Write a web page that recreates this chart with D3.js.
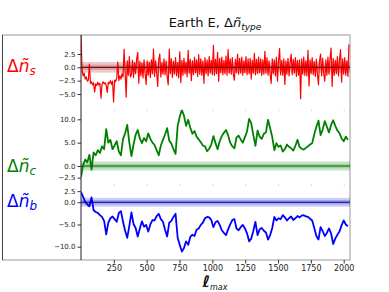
<!DOCTYPE html>
<html>
<head>
<meta charset="utf-8">
<script src="https://cdn.jsdelivr.net/npm/d3@7"></script>
<style>
  body { margin: 0; background: #fff; }
  svg { display: block; font-family: "DejaVu Sans", sans-serif; }
</style>
</head>
<body>
<svg id="chart" width="389" height="292"></svg>
<script>
// values
// delta n_s, one value every 8 in ell
const stepS = 8;
const nS = [
  6.2, -0.4, -1.6, -1.1, -2.2, -1.8, -2.6, -2.4, 0.6, -3.0, -2.7, -3.3, -2.9, -4.6, -3.1, -3.4,
  -2.8, -3.3, -3.0, -5.8, -3.2, -2.7, -3.1, -2.9, -3.4, -4.7, -2.8, -3.0, -2.5, -3.2, -2.6, -6.5,
  -2.4, -2.7, -2.0, 1.0, -2.5, -1.6, -2.2, -1.2, -1.8, 3.4, -1.0, -5.6, 1.2, -1.5, 2.0, -1.8,
  -1.4, 1.3, -1.9, 0.9, -1.2, 1.6, 2.8, -3.0, 1.1, -1.6, 0.8, -2.0, 1.4, -1.1, -3.2, 1.2,
  -1.5, 1.0, -1.9, 1.4, -1.2, 3.4, -1.7, 1.2, -1.0, -3.6, 1.5, 2.5, -1.8, 0.9, -1.3, 1.6,
  -1.4, 1.2, -1.7, -3.3, 3.4, -1.2, 1.6, -1.9, 1.1, -1.3, 1.8, -1.6, 0.9, -2.0, 2.9, -2.9,
  1.3, -1.5, 1.7, -1.2, 1.0, -1.8, 3.2, -1.1, 1.5, -2.5, 1.2, -1.4, 1.9, -1.0, 1.4, -1.7,
  2.4, -1.3, 1.6, -1.5, 1.2, -3.0, 1.8, -1.2, 1.4, -1.6, 2.0, -1.1, 1.3, -1.4, 4.1, -1.5,
  1.5, -1.2, 2.8, -2.6, 1.7, -1.0, 1.9, -1.4, 1.3, -1.2, 2.1, -1.5, 3.3, -1.1, 1.6, -1.3,
  1.8, -1.4, -2.4, 1.5, -1.0, 2.5, -1.3, 1.7, -1.1, 1.9, -1.5, 1.2, -1.0, 2.0, -1.4, 1.6,
  -1.2, 1.7, -2.2, 1.3, -1.1, 2.6, -1.4, 1.5, -1.2, 1.9, -1.0, 1.6, -1.5, 1.4, -1.3, 3.0,
  -1.1, 1.8, -1.5, 1.2, -1.3, -3.0, 1.6, -1.2, 1.4, -1.6, 1.9, -2.6, 1.1, 3.5, -1.4, 1.3,
  -1.5, 1.6, -3.2, 1.2, -1.3, 1.7, -1.6, 1.0, 2.5, -1.4, 1.5, -1.1, 1.8, -1.7, 1.3, -1.5,
  1.4, -5.9, 1.6, -1.3, 1.9, -1.5, 1.2, -1.6, 3.2, -3.5, 1.4, -1.2, 1.8, -1.4, 1.1, -1.7,
  1.5, -1.3, -3.3, 1.2, 2.5, -1.6, 1.7, -1.2, -2.6, 1.4, -1.5, 1.9, -1.3, 1.6, 3.6, -3.6,
  1.7, -1.5, 1.3, -1.2, 2.0, -1.6, 1.4, 3.3, -2.8, 1.6, -1.3, 1.8, -1.5, 1.2, -1.7, 4.3
];

// delta n_c and delta n_b, one value every 16 in ell
const stepCB = 16;
const nC = [
  -2.4, 0.2, 1.4, 0.8, 2.4, -0.8, 2.9, 2.3, 3.4, 2.8, 4.2, 3.6, 7.9, 5.0, 5.6, 3.6,
  4.4, 5.3, 3.1, 2.3, 5.8, 7.0, 8.8, 5.0, 2.1, 4.6, 6.7, 7.7, 5.9, 4.9, 6.0, 5.3,
  7.0, 5.8, 5.0, 4.5, 3.4, 2.3, 4.4, 5.6, 6.8, 8.1, 5.4, 4.8, 3.6, 2.6, 8.6, 10.6,
  12.0, 10.8, 8.6, 9.9, 8.2, 6.9, 7.5, 6.3, 5.7, 5.1, 4.4, 4.2, 3.2, 3.7, 4.6, 6.4,
  4.9, 3.6, 5.3, 6.4, 7.1, 7.7, 6.6, 5.0, 4.2, 3.8, 6.1, 6.5, 5.7, 5.0, 6.2, 7.4,
  10.1, 9.2, 6.6, 4.3, 7.6, 6.3, 5.8, 6.9, 7.2, 9.9, 8.1, 6.2, 3.4, 4.9, 4.1, 4.4,
  3.1, 3.6, 4.6, 4.1, 3.8, 3.3, 4.3, 5.6, 4.1, 3.7, 3.5, 3.9, 4.2, 4.6, 4.9, 6.8,
  8.4, 9.7, 6.6, 7.8, 9.6, 8.4, 7.2, 8.8, 9.8, 8.6, 7.6, 7.0, 5.9, 5.3, 6.3, 5.6
];
const nB = [
  2.3, 1.2, 0.1, -0.5, -0.9, 1.1, -1.8, -2.2, -2.4, -2.9, -3.3, -4.2, -7.2, -4.6, -3.6, -3.2,
  -3.8, -4.4, -2.4, -2.0, -4.4, -6.4, -8.0, -5.3, -2.3, -4.9, -5.8, -7.7, -5.9, -4.3, -5.5, -5.1,
  -6.6, -5.0, -4.0, -4.1, -3.1, -2.6, -3.8, -4.4, -6.2, -7.7, -4.6, -4.2, -3.3, -2.6, -8.0, -9.6,
  -11.1, -10.3, -8.8, -9.6, -7.8, -7.3, -7.6, -6.2, -5.9, -5.1, -4.6, -3.6, -3.3, -3.4, -4.0, -5.6,
  -4.5, -4.2, -5.1, -6.3, -6.9, -7.4, -6.1, -5.0, -4.0, -3.8, -5.9, -6.3, -5.6, -5.1, -5.9, -7.0,
  -8.8, -8.2, -6.4, -4.4, -7.4, -6.1, -5.8, -6.4, -6.8, -8.4, -7.4, -5.8, -3.3, -4.1, -3.6, -3.8,
  -2.9, -3.4, -4.1, -3.6, -3.2, -4.0, -3.6, -3.1, -3.4, -3.0, -2.9, -3.2, -3.3, -3.7, -4.1, -5.8,
  -7.6, -8.4, -5.6, -6.5, -7.6, -6.9, -5.9, -7.0, -9.4, -8.2, -7.3, -6.6, -5.2, -4.1, -5.0, -5.4
];

const xTicks = [250, 500, 750, 1000, 1250, 1500, 1750, 2000];
const ticksS = [2.5, 0, -2.5, -5];
const ticksC = [10, 5, 0, -2.5];
const ticksB = [2.5, 0, -5, -10];

const svg = d3.select("#chart");
const x = d3.scaleLinear().domain([0, 2048]).range([81, 350]);

const panels = [
  { values: nS, step: stepS, ticks: ticksS, domain: [-7.95, 6.06], top: 35, bottom: 109.7,
    color: "#ff0000", width: 1.2, zero: "#8b0000", band: "#8b0000", sub: "s", labelY: 72 },
  { values: nC, step: stepCB, ticks: ticksC, domain: [-3.96, 12.06], top: 109.7, bottom: 184.5,
    color: "#008000", width: 1.8, zero: "#006400", band: "#008000", sub: "c", labelY: 171.5 },
  { values: nB, step: stepCB, ticks: ticksB, domain: [-13.0, 4.0], top: 184.5, bottom: 260,
    color: "#0000ff", width: 1.8, zero: "#00008b", band: "#0000cd", sub: "b", labelY: 207 }
];

// outer frame
svg.append("rect")
  .attr("x", 2.5).attr("y", 35)
  .attr("width", 347.5).attr("height", 225)
  .attr("fill", "none").attr("stroke", "#999");
svg.append("line")
  .attr("x1", 2.5).attr("x2", 2.5).attr("y1", 35).attr("y2", 260)
  .attr("stroke", "#444");

panels.forEach((p, k) => {
  const y = d3.scaleLinear().domain(p.domain).range([p.bottom, p.top]);

  svg.append("clipPath").attr("id", "clip" + k)
    .append("rect")
    .attr("x", x(0)).attr("y", p.top)
    .attr("width", x(2048) - x(0)).attr("height", p.bottom - p.top);

  const g = svg.append("g").attr("clip-path", "url(#clip" + k + ")");

  // 1 and 0.5 bands round zero
  [1, 0.5].forEach(w => {
    g.append("rect")
      .attr("x", x(0)).attr("width", x(2048) - x(0))
      .attr("y", y(w)).attr("height", y(-w) - y(w))
      .attr("fill", p.band).attr("opacity", 0.2);
  });

  const line = d3.line()
    .x((d, i) => x(i * p.step))
    .y(d => y(d));

  g.append("path")
    .datum(p.values)
    .attr("d", line)
    .attr("fill", "none")
    .attr("stroke", p.color)
    .attr("stroke-width", p.width)
    .attr("stroke-linejoin", "round");

  g.append("line")
    .attr("x1", x(0)).attr("x2", x(2048))
    .attr("y1", y(0)).attr("y2", y(0))
    .attr("stroke", p.zero).attr("stroke-width", 1.2);

  const ax = svg.append("g")
    .attr("transform", "translate(" + x(0) + ",0)")
    .call(d3.axisLeft(y).tickValues(p.ticks).tickFormat(d3.format(".1f")).tickSize(3.5).tickPadding(2));
  ax.select(".domain").remove();
  ax.selectAll("line").attr("stroke", "#333");
  ax.selectAll("text").attr("fill", "#222").attr("font-size", 7).attr("font-family", "DejaVu Sans");

  // hidden x axes of the upper panels leave faint tick marks
  if (k < 2) {
    const fx = svg.append("g")
      .attr("transform", "translate(0," + p.bottom + ")")
      .call(d3.axisBottom(x).tickValues(xTicks).tickFormat("").tickSize(1.5));
    fx.select(".domain").remove();
    fx.selectAll("line").attr("stroke", "#ccc");
  }

  const lab = svg.append("text")
    .attr("x", 7).attr("y", p.labelY)
    .attr("font-size", 17)
    .attr("fill", p.color);
  lab.append("tspan").text("Δ");
  lab.append("tspan").attr("font-style", "italic").text("ñ");
  lab.append("tspan").attr("font-style", "italic").attr("font-size", 12).attr("dy", 3).text(p.sub);
});

// left spine
svg.append("line")
  .attr("x1", x(0)).attr("x2", x(0)).attr("y1", 35).attr("y2", 260)
  .attr("stroke", "#222");

// bottom axis
const xa = svg.append("g")
  .attr("transform", "translate(0,260)")
  .call(d3.axisBottom(x).tickValues(xTicks).tickFormat(d3.format("d")).tickSize(3.5).tickPadding(2));
xa.select(".domain").remove();
xa.selectAll("line").attr("stroke", "#333");
xa.selectAll("text").attr("fill", "#222").attr("font-size", 8).attr("font-family", "DejaVu Sans");

// x label
const xl = svg.append("text")
  .attr("x", 215).attr("y", 287)
  .attr("text-anchor", "middle")
  .attr("font-size", 16)
  .attr("fill", "#111");
xl.append("tspan").attr("font-style", "italic").attr("font-weight", "bold").text("ℓ");
xl.append("tspan").attr("font-style", "italic").attr("font-size", 8).attr("dy", 3).text("max");

// title
const title = svg.append("text")
  .attr("x", 215).attr("y", 27)
  .attr("text-anchor", "middle")
  .attr("font-size", 13)
  .attr("fill", "#111");
title.append("tspan").text("Earth E, Δ");
title.append("tspan").attr("font-style", "italic").text("ñ");
title.append("tspan").attr("font-style", "italic").attr("font-size", 9).attr("dy", 3).text("type");
</script>
</body>
</html>
